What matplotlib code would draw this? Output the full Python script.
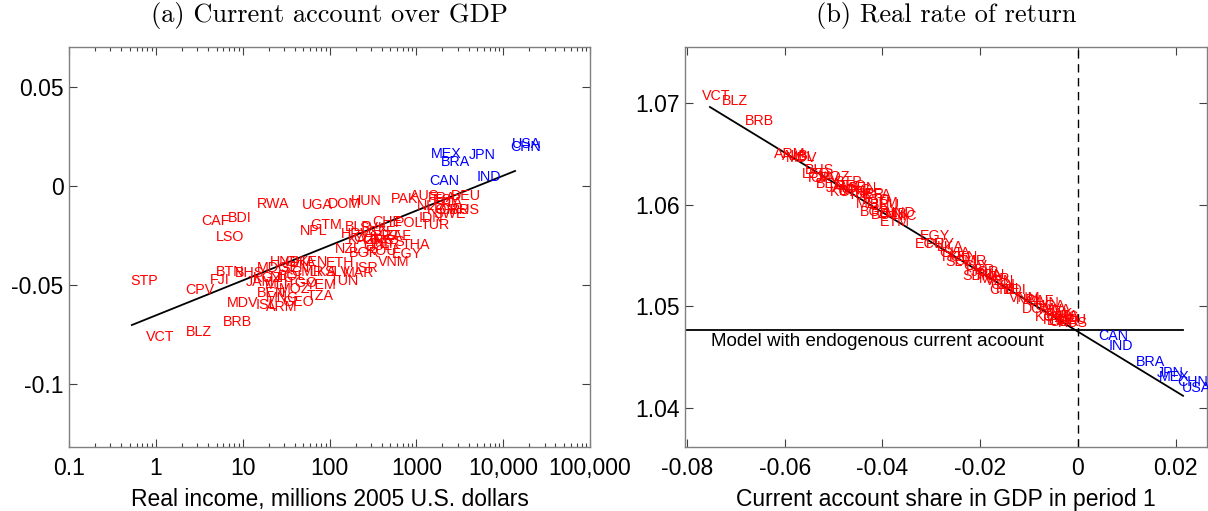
import numpy as np
import matplotlib
matplotlib.use("Agg")
import matplotlib.pyplot as plt
from matplotlib.ticker import FixedLocator, LogLocator, NullFormatter

plt.rcParams['axes.unicode_minus'] = False

# ---------------- panel (a): current account over GDP vs real income
a_blue_codes = ['USA', 'CHN', 'MEX', 'BRA', 'JPN', 'CAN', 'IND']
a_blue_income = [18800, 18300, 2190, 2790, 5700, 2080, 6860]
a_blue_ca = [0.0212, 0.0197, 0.0162, 0.0121, 0.0157, 0.0025, 0.0045]

a_red_codes = ['RWA', 'UGA', 'DOM', 'HUN', 'PAK', 'AUS', 'DEU', 'FRA', 'ESP', 'ITA',
               'KOR', 'GBR', 'RUS', 'CAF', 'BDI', 'LSO', 'NPL', 'GTM', 'BLR', 'POL',
               'IDN', 'TUR', 'CHE', 'SVK', 'CZE', 'PRT', 'GRC', 'ZAF', 'CHL', 'MYS',
               'KAZ', 'HRV', 'COL', 'PER', 'ROU', 'BGR', 'THA', 'EGY', 'VNM', 'NZL',
               'ETH', 'ISR', 'MAR', 'TUN', 'YEM', 'TZA', 'SLV', 'LKA', 'HND', 'GHA',
               'KEN', 'MDG', 'SEN', 'CMR', 'BOL', 'NIC', 'KGZ', 'JAM', 'BHS', 'BTN',
               'FJI', 'CPV', 'STP', 'MOZ', 'BEN', 'MNG', 'TGO', 'MLI', 'MDV', 'ISL',
               'ARM', 'GEO', 'BLZ', 'BRB', 'VCT', 'NLD', 'SWE']
a_red_income = [22.3, 71.6, 147, 262, 739, 1257, 3730, 1972, 2253, 2573,
                1972, 2711, 3631, 4.91, 9.29, 7.12, 66.1, 90.9, 218, 822,
                1473, 1637, 458, 325, 402, 458, 361, 614, 277, 496,
                236, 201, 361, 446, 402, 249, 989, 779, 552, 163,
                132, 270, 218, 147, 79.6, 77.5, 122, 86, 30.6, 45.6,
                66.1, 22.9, 40, 55, 36.9, 28.3, 19.5, 15.8, 12.1, 7.12,
                5.46, 3.21, 0.727, 40, 21.7, 29, 48.1, 24.8, 10.05, 18.5,
                28.3, 43.1, 3.13, 8.81, 1.11, 1473, 2439]
a_red_ca = [-0.0091, -0.0096, -0.0091, -0.0076, -0.0066, -0.0051, -0.0051, -0.0061, -0.0071, -0.0086,
            -0.0121, -0.0121, -0.0121, -0.0177, -0.0162, -0.0258, -0.0227, -0.0197, -0.0207, -0.0187,
            -0.0162, -0.0197, -0.0182, -0.0212, -0.0232, -0.0253, -0.0273, -0.0253, -0.0263, -0.0283,
            -0.0273, -0.0242, -0.0303, -0.0293, -0.0328, -0.0338, -0.0298, -0.0343, -0.0384, -0.0318,
            -0.0389, -0.0414, -0.0439, -0.0480, -0.0500, -0.0556, -0.0434, -0.0434, -0.0384, -0.0384,
            -0.0384, -0.0414, -0.0414, -0.0434, -0.0455, -0.0465, -0.0465, -0.0485, -0.0439, -0.0434,
            -0.0475, -0.0525, -0.0480, -0.0520, -0.0540, -0.0566, -0.0490, -0.0500, -0.0591, -0.0601,
            -0.0611, -0.0586, -0.0737, -0.0687, -0.0763, -0.0101, -0.0141]

a_fit_x = [0.53, 13700]
a_fit_y = [-0.0702, 0.0076]

a_xticks = [0.1, 1, 10, 100, 1000, 10000, 100000]
a_xticklabels = ['0.1', '1', '10', '100', '1000', '10,000', '100,000']
a_yticks = [-0.1, -0.05, 0, 0.05]
a_yticklabels = ['-0.1', '-0.05', '0', '0.05']

# ---------------- panel (b): real rate of return vs current account share
b_blue_codes = ['CAN', 'IND', 'BRA', 'JPN', 'MEX', 'CHN', 'USA']
b_blue_ca = [0.0072, 0.0088, 0.0149, 0.0188, 0.0198, 0.0235, 0.0243]
b_blue_r = [1.0471, 1.0461, 1.0445, 1.0434, 1.0430, 1.0426, 1.0420]

b_red_codes = ['VCT', 'BLZ', 'BRB', 'ARM', 'ALB', 'MDV', 'ISL', 'BHS', 'FJI', 'CPV',
               'MOZ', 'BEN', 'JAM', 'GEO', 'KGZ', 'MNG', 'TJK', 'SEN', 'NER', 'BFA',
               'TGO', 'MLI', 'BRU', 'BGR', 'BOL', 'ZMB', 'HND', 'NIC', 'ETM', 'EGY',
               'ECU', 'PRY', 'LKA', 'GHA', 'KEN', 'SLV', 'CMR', 'CIV', 'PER', 'JOR',
               'SDN', 'TUN', 'MAR', 'VEN', 'COL', 'PHL', 'CHL', 'BDI', 'NPL', 'CAF',
               'HUN', 'UGA', 'DOM', 'RWA', 'PAK', 'AUS', 'KOR', 'DEU', 'GBR', 'FRA',
               'RUS', 'ITA', 'ESP', 'LSO', 'STP', 'BTN', 'GTM', 'POL', 'THA', 'VNM']
b_red_ca = [-0.0741, -0.0702, -0.0651, -0.0589, -0.0579, -0.0565, -0.0559, -0.0528, -0.0532, -0.0518,
            -0.0497, -0.0507, -0.0487, -0.0466, -0.0477, -0.0456, -0.0446, -0.0442, -0.0426, -0.0409,
            -0.0415, -0.0430, -0.0395, -0.0415, -0.0395, -0.0379, -0.0364, -0.0354, -0.0374, -0.0293,
            -0.0303, -0.0282, -0.0262, -0.0252, -0.0235, -0.0245, -0.0221, -0.0211, -0.0200, -0.0190,
            -0.0205, -0.0180, -0.0170, -0.0160, -0.0149, -0.0139, -0.0153, -0.0129, -0.0098, -0.0078,
            -0.0068, -0.0057, -0.0082, -0.0047, -0.0037, -0.0027, -0.0057, -0.0012, -0.0029, -0.0043,
            -0.0010, -0.0020, -0.0035, -0.0535, -0.0470, -0.0460, -0.0400, -0.0250, -0.0185, -0.0110]
b_red_r = [1.0707, 1.0702, 1.0682, 1.0650, 1.0648, 1.0646, 1.0647, 1.0634, 1.0626, 1.0626,
           1.0627, 1.0620, 1.0616, 1.0618, 1.0612, 1.0614, 1.0609, 1.0616, 1.0610, 1.0609,
           1.0605, 1.0601, 1.0600, 1.0593, 1.0590, 1.0591, 1.0592, 1.0589, 1.0583, 1.0569,
           1.0561, 1.0561, 1.0558, 1.0552, 1.0548, 1.0544, 1.0545, 1.0540, 1.0536, 1.0534,
           1.0530, 1.0531, 1.0527, 1.0525, 1.0521, 1.0517, 1.0516, 1.0516, 1.0506, 1.0505,
           1.0503, 1.0500, 1.0497, 1.0496, 1.0492, 1.0489, 1.0489, 1.0487, 1.0485, 1.0487,
           1.0484, 1.0490, 1.0486, 1.0630, 1.0622, 1.0613, 1.0602, 1.0548, 1.0530, 1.0508]

b_fit_x = [-0.0753, 0.0215]
b_fit_y = [1.0696, 1.0412]
b_model_x = [-0.0804, 0.0215]
b_model_y = [1.04767, 1.04767]
b_model_text = 'Model with endogenous current acoount'

b_xticks = [-0.08, -0.06, -0.04, -0.02, 0, 0.02]
b_xticklabels = ['-0.08', '-0.06', '-0.04', '-0.02', '0', '0.02']
b_yticks = [1.04, 1.05, 1.06, 1.07]
b_yticklabels = ['1.04', '1.05', '1.06', '1.07']

tick_font = ['Liberation Sans Narrow', 'Liberation Sans', 'DejaVu Sans']
label_font = ['Liberation Sans', 'DejaVu Sans']
spine_col = '#808080'

fig = plt.figure(figsize=(12.08, 5.11), dpi=100)
W, H = 1208, 511
bottom_px = 447
ax1 = fig.add_axes([69 / W, 1 - bottom_px / H, 521 / W, (bottom_px - 47) / H])
ax2 = fig.add_axes([685 / W, 1 - bottom_px / H, 522 / W, (bottom_px - 47) / H])


def style(ax):
    for s in ax.spines.values():
        s.set_color(spine_col)
        s.set_linewidth(1.0)
    ax.tick_params(which='both', direction='in', top=True, right=True,
                   color='#404040', labelsize=16.5, length=6, width=0.8)
    ax.tick_params(axis='x', pad=7)
    ax.tick_params(axis='y', pad=4)
    ax.tick_params(which='minor', length=3)
    for lab in ax.get_xticklabels() + ax.get_yticklabels():
        lab.set_family(tick_font)
        lab.set_stretch('condensed')


# panel (a)
ax1.set_xscale('log')
ax1.plot(a_fit_x, a_fit_y, color='black', lw=1.3)
for c, x, y in zip(a_red_codes, a_red_income, a_red_ca):
    ax1.text(x, y, c, color='red', fontsize=10.3, ha='center', va='center', family=label_font)
for c, x, y in zip(a_blue_codes, a_blue_income, a_blue_ca):
    ax1.text(x, y, c, color='blue', fontsize=10.3, ha='center', va='center', family=label_font)
ax1.set_xlim(0.1, 100000)
ax1.set_ylim((186 - bottom_px) * 0.000505, 0.0702)
ax1.xaxis.set_major_locator(FixedLocator(a_xticks))
ax1.set_xticklabels(a_xticklabels)
ax1.xaxis.set_minor_locator(LogLocator(base=10, subs=np.arange(2, 10)))
ax1.xaxis.set_minor_formatter(NullFormatter())
ax1.set_yticks(a_yticks)
ax1.set_yticklabels(a_yticklabels)
style(ax1)
ax1.set_xlabel('Real income, millions 2005 U.S. dollars', fontsize=16.5, family=tick_font,
               fontstretch='condensed', labelpad=6)
ax1.set_title('(a) Current account over GDP', fontsize=19, family='cmr10', pad=18)

# panel (b)
ax2.plot(b_fit_x, b_fit_y, color='black', lw=1.3)
ax2.plot(b_model_x, b_model_y, color='black', lw=1.3)
ax2.axvline(0, color='black', lw=1.0, ls=(0, (6, 4)))
ax2.text(-0.0751, 1.0465, b_model_text, fontsize=13.5, ha='left', va='center', family=label_font)
for c, x, y in zip(b_red_codes, b_red_ca, b_red_r):
    ax2.text(x, y, c, color='red', fontsize=10.3, ha='center', va='center', family=label_font)
for c, x, y in zip(b_blue_codes, b_blue_ca, b_blue_r):
    ax2.text(x, y, c, color='blue', fontsize=10.3, ha='center', va='center', family=label_font)
ax2.set_xlim(-0.0804, 0.0264)
ax2.set_ylim(1.07 - (bottom_px - 103) / 10167, 1.0755)
ax2.set_xticks(b_xticks)
ax2.set_xticklabels(b_xticklabels)
ax2.set_yticks(b_yticks)
ax2.set_yticklabels(b_yticklabels)
style(ax2)
ax2.set_xlabel('Current account share in GDP in period 1', fontsize=16.5, family=tick_font,
               fontstretch='condensed', labelpad=6)
ax2.set_title('(b) Real rate of return', fontsize=19, family='cmr10', pad=18)

fig.savefig('out.png', dpi=100)
